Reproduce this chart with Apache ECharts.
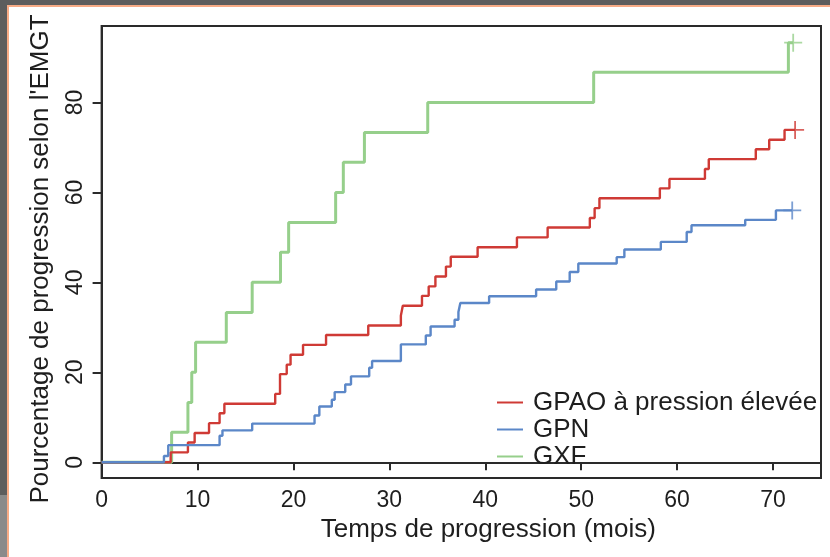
<!DOCTYPE html>
<html>
<head>
<meta charset="utf-8">
<script src="https://cdn.jsdelivr.net/npm/echarts@6/dist/echarts.min.js"></script>
<style>
  html, body { margin: 0; padding: 0; background: #ffffff; }
  #wrap { position: relative; width: 830px; height: 557px; overflow: hidden; background: #ffffff; }
  .deco { position: absolute; }
  #chart { position: absolute; left: 0; top: 0; width: 830px; height: 557px; }
</style>
</head>
<body>
<div id="wrap">
  <div class="deco" style="left:0;top:0;width:830px;height:5px;background:#5d5d5d"></div>
  <div class="deco" style="left:0;top:0;width:7px;height:495px;background:#5d5d5d"></div>
  <div class="deco" style="left:0;top:495px;width:7px;height:62px;background:#8a8a8a"></div>
  <div class="deco" style="left:7px;top:5px;width:823px;height:2px;background:#f7ab86"></div>
  <div class="deco" style="left:7px;top:5px;width:2px;height:552px;background:#f7ab86"></div>
  <div id="chart"></div>
</div>
<script>
// ---- Data ----
const seriesNames = ['GPAO à pression élevée', 'GPN', 'GXF'];

const gpaoTimes  = [0, 7.2, 9.0, 9.7, 11.2, 12.3, 12.8, 18.1, 18.6, 19.3, 19.7, 21.0, 23.4, 27.8, 31.2, 31.4, 33.4, 34.1, 34.8, 35.9, 36.4, 39.2, 43.3, 46.5, 50.9, 51.4, 51.9, 58.2, 59.2, 62.9, 63.3, 68.2, 69.6, 71.2, 72.3];
const gpaoValues = [0, 2.2, 4.4, 6.5, 8.7, 10.9, 13.0, 15.2, 19.6, 21.7, 23.9, 26.1, 28.3, 30.4, 32.6, 34.8, 37.0, 39.1, 41.3, 43.5, 45.7, 47.8, 50.0, 52.2, 54.3, 56.5, 58.7, 60.9, 63.0, 65.2, 67.4, 69.6, 71.7, 73.9, 73.9];

const gpnTimes  = [0, 6.5, 6.95, 12.3, 12.6, 15.7, 22.2, 22.7, 24.0, 24.3, 25.4, 26.0, 27.9, 28.2, 31.2, 33.8, 34.3, 36.8, 37.2, 37.4, 40.4, 45.3, 47.4, 48.8, 49.7, 53.7, 54.5, 58.3, 61.0, 61.5, 67.1, 70.3, 72.0];
const gpnValues = [0, 1.4, 3.8, 5.9, 7.1, 8.6, 10.4, 12.4, 13.9, 15.6, 17.3, 19.1, 21.0, 22.5, 26.2, 28.2, 30.2, 31.7, 33.4, 35.4, 36.9, 38.4, 40.2, 42.3, 44.2, 45.6, 47.3, 49.0, 51.2, 52.7, 53.9, 56.0, 56.0];

const gxfTimes  = [0, 7.3, 9.0, 9.4, 9.8, 13.0, 15.7, 18.65, 19.5, 24.4, 25.2, 27.4, 34.0, 51.3, 71.6, 72.1];
const gxfValues = [0, 6.7, 13.3, 20.0, 26.7, 33.3, 40.0, 46.7, 53.3, 60.0, 66.7, 73.3, 80.0, 86.7, 93.3, 93.3];

// censored end points (+)
const censorTimes  = [72.3, 72.0, 72.1];
const censorValues = [73.9, 56.0, 93.3];

const xTickValues = [0, 10, 20, 30, 40, 50, 60, 70];
const yTickValues = [0, 20, 40, 60, 80];

const xTitle = 'Temps de progression (mois)';
const yTitle = "Pourcentage de progression selon l'EMGT";

const colors = ['#cf3a35', '#5b87c8', '#96cf8b'];

// ---- Build ----
function pairs(t, v) { return t.map((x, i) => [x, v[i]]); }

const crossPath = 'path://M-1,-10 L1,-10 L1,-1 L10,-1 L10,1 L1,1 L1,10 L-1,10 L-1,1 L-10,1 L-10,-1 L-1,-1 Z';

const chart = echarts.init(document.getElementById('chart'), null, { renderer: 'canvas' });
const font = 'Liberation Sans, Arial, sans-serif';
const axisCol = '#2a2a2a';
const textCol = '#1e1e1e';

const lineSeries = [
  { name: seriesNames[2], t: gxfTimes, v: gxfValues, c: colors[2], w: 3 },
  { name: seriesNames[0], t: gpaoTimes, v: gpaoValues, c: colors[0], w: 2.4 },
  { name: seriesNames[1], t: gpnTimes, v: gpnValues, c: colors[1], w: 2.4 }
].map(s => ({
  name: s.name,
  type: 'line',
  step: 'end',
  showSymbol: false,
  symbol: 'none',
  silent: true,
  animation: false,
  data: pairs(s.t, s.v),
  color: s.c,
  lineStyle: { color: s.c, width: s.w }
}));

const censorSeries = censorTimes.map((t, i) => ({
  type: 'scatter',
  symbol: crossPath,
  symbolSize: 18,
  silent: true,
  animation: false,
  itemStyle: { color: colors[i] },
  data: [[t, censorValues[i]]]
}));

chart.setOption({
  backgroundColor: 'transparent',
  animation: false,
  textStyle: { fontFamily: font },
  grid: {
    left: 101.6, top: 26, right: 9, bottom: 79,
    show: true, borderColor: axisCol, borderWidth: 2, backgroundColor: 'transparent'
  },
  legend: {
    data: seriesNames,
    orient: 'vertical',
    left: 497,
    top: 389,
    padding: 0,
    itemWidth: 26,
    itemHeight: 2,
    itemGap: 0,
    icon: 'rect',
    textStyle: { fontSize: 26, color: textCol, fontFamily: font, lineHeight: 27, padding: [0, 0, 0, 5] },
    selectedMode: false
  },
  xAxis: {
    type: 'value',
    min: 0, max: 75,
    splitLine: { show: false },
    axisLine: { show: true, lineStyle: { color: axisCol, width: 2 } },
    axisTick: { show: true, customValues: xTickValues, length: 8, lineStyle: { color: axisCol, width: 2 } },
    axisLabel: { customValues: xTickValues, fontSize: 23, color: textCol, margin: 11, fontFamily: font },
    name: xTitle,
    nameLocation: 'middle',
    nameGap: 33,
    nameTextStyle: { fontSize: 26, color: textCol, fontFamily: font, padding: [0, 0, 0, 54] }
  },
  yAxis: {
    type: 'value',
    min: -3.5, max: 97,
    splitLine: { show: false },
    axisLine: { show: true, lineStyle: { color: axisCol, width: 2 } },
    axisTick: { show: true, customValues: yTickValues, length: 9, lineStyle: { color: axisCol, width: 2 } },
    axisLabel: { customValues: yTickValues, fontSize: 23, color: textCol, margin: 14, rotate: 90, fontFamily: font },
    name: yTitle,
    nameLocation: 'middle',
    nameGap: 48,
    nameRotate: 90,
    nameTextStyle: { fontSize: 26, color: textCol, fontFamily: font, padding: [0, 14, 0, 0] }
  },
  series: lineSeries.concat(censorSeries)
});
</script>
</body>
</html>
